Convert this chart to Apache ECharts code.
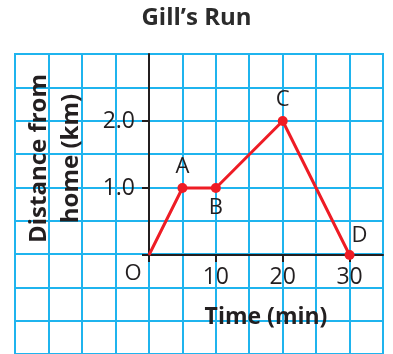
<!DOCTYPE html>
<html>
<head>
<meta charset="utf-8">
<script src="https://cdn.jsdelivr.net/npm/echarts@6/dist/echarts.min.js"></script>
<style>
  html, body { margin: 0; padding: 0; background: #fff; }
  #chart { width: 393px; height: 354px; }
</style>
</head>
<body>
<div id="chart"></div>
<script>
// Gill's Run data
var pointNames = ['O', 'A', 'B', 'C', 'D'];
var times = [0, 5, 10, 20, 30];          // min
var distances = [0, 1, 1, 2, 0];         // km
var xTickValues = [10, 20, 30];
var yTickValues = [1, 2];

var gridBlue = '#1fb4ee';
var red = '#ee1c25';
var ink = '#231f20';
var font = '"Open Sans", sans-serif';

// label placement next to each point
var labelOffsets = { O: [-16, 19], A: [0, -21], B: [0, 20], C: [0, -21], D: [10, -19] };

var seriesData = pointNames.map(function (n, i) {
    return {
        name: n,
        value: [times[i], distances[i]],
        symbolSize: n === 'O' ? 0 : 10,
        label: { offset: labelOffsets[n] }
    };
});

var chart = echarts.init(document.getElementById('chart'));

var option = {
    animation: false,
    title: {
        text: 'Gill\u2019s Run',
        left: 'center',
        top: 1,
        textStyle: { fontFamily: font, fontWeight: 'bold', fontSize: 24, color: '#2b2b2b' }
    },
    grid: [
        // blue squared paper
        { left: 15, top: 54, width: 368, height: 301, show: true, borderColor: gridBlue, borderWidth: 2 },
        // plotting area from the origin
        { left: 149, top: 54, width: 234, height: 201 }
    ],
    xAxis: [{
        gridIndex: 0, type: 'value', min: -20, max: 35, interval: 5,
        axisLine: { show: false }, axisTick: { show: false }, axisLabel: { show: false },
        splitLine: { lineStyle: { color: gridBlue, width: 2 } }
    }, {
        gridIndex: 1, type: 'value', min: 0, max: 35,
        name: 'Time (min)', nameLocation: 'middle', nameGap: 51,
        nameTextStyle: { fontFamily: font, fontWeight: 'bold', fontSize: 23, color: ink },
        axisLine: { onZero: false, lineStyle: { color: ink, width: 2 } },
        axisTick: { customValues: [0].concat(xTickValues), length: 7, lineStyle: { color: ink, width: 2 } },
        axisLabel: {
            customValues: xTickValues, margin: 11,
            fontFamily: font, fontSize: 23, color: ink
        },
        splitLine: { show: false }
    }],
    yAxis: [{
        gridIndex: 0, type: 'value', min: -1.5, max: 3, interval: 0.5,
        axisLine: { show: false }, axisTick: { show: false }, axisLabel: { show: false },
        splitLine: { lineStyle: { color: gridBlue, width: 2 } }
    }, {
        gridIndex: 1, type: 'value', min: 0, max: 3,
        name: 'Distance from\nhome (km)', nameLocation: 'middle', nameGap: 62,
        nameTextStyle: {
            fontFamily: font, fontWeight: 'bold', fontSize: 24, color: ink,
            lineHeight: 32, align: 'center', padding: [0, 8, 0, 0]
        },
        axisLine: { onZero: false, lineStyle: { color: ink, width: 2 } },
        axisTick: { customValues: [0].concat(yTickValues), length: 7, lineStyle: { color: ink, width: 2 } },
        axisLabel: {
            customValues: yTickValues, margin: 14,
            formatter: function (v) { return v.toFixed(1); },
            fontFamily: font, fontSize: 23, color: ink
        },
        splitLine: { show: false }
    }],
    series: [{
        type: 'line',
        xAxisIndex: 1,
        yAxisIndex: 1,
        data: seriesData,
        symbol: 'circle',
        itemStyle: { color: red },
        lineStyle: { color: red, width: 3 },
        label: {
            show: true,
            position: 'inside',
            formatter: '{b}',
            fontFamily: font,
            fontSize: 22,
            color: ink
        },
        z: 5
    }]
};

chart.setOption(option);
</script>
</body>
</html>
